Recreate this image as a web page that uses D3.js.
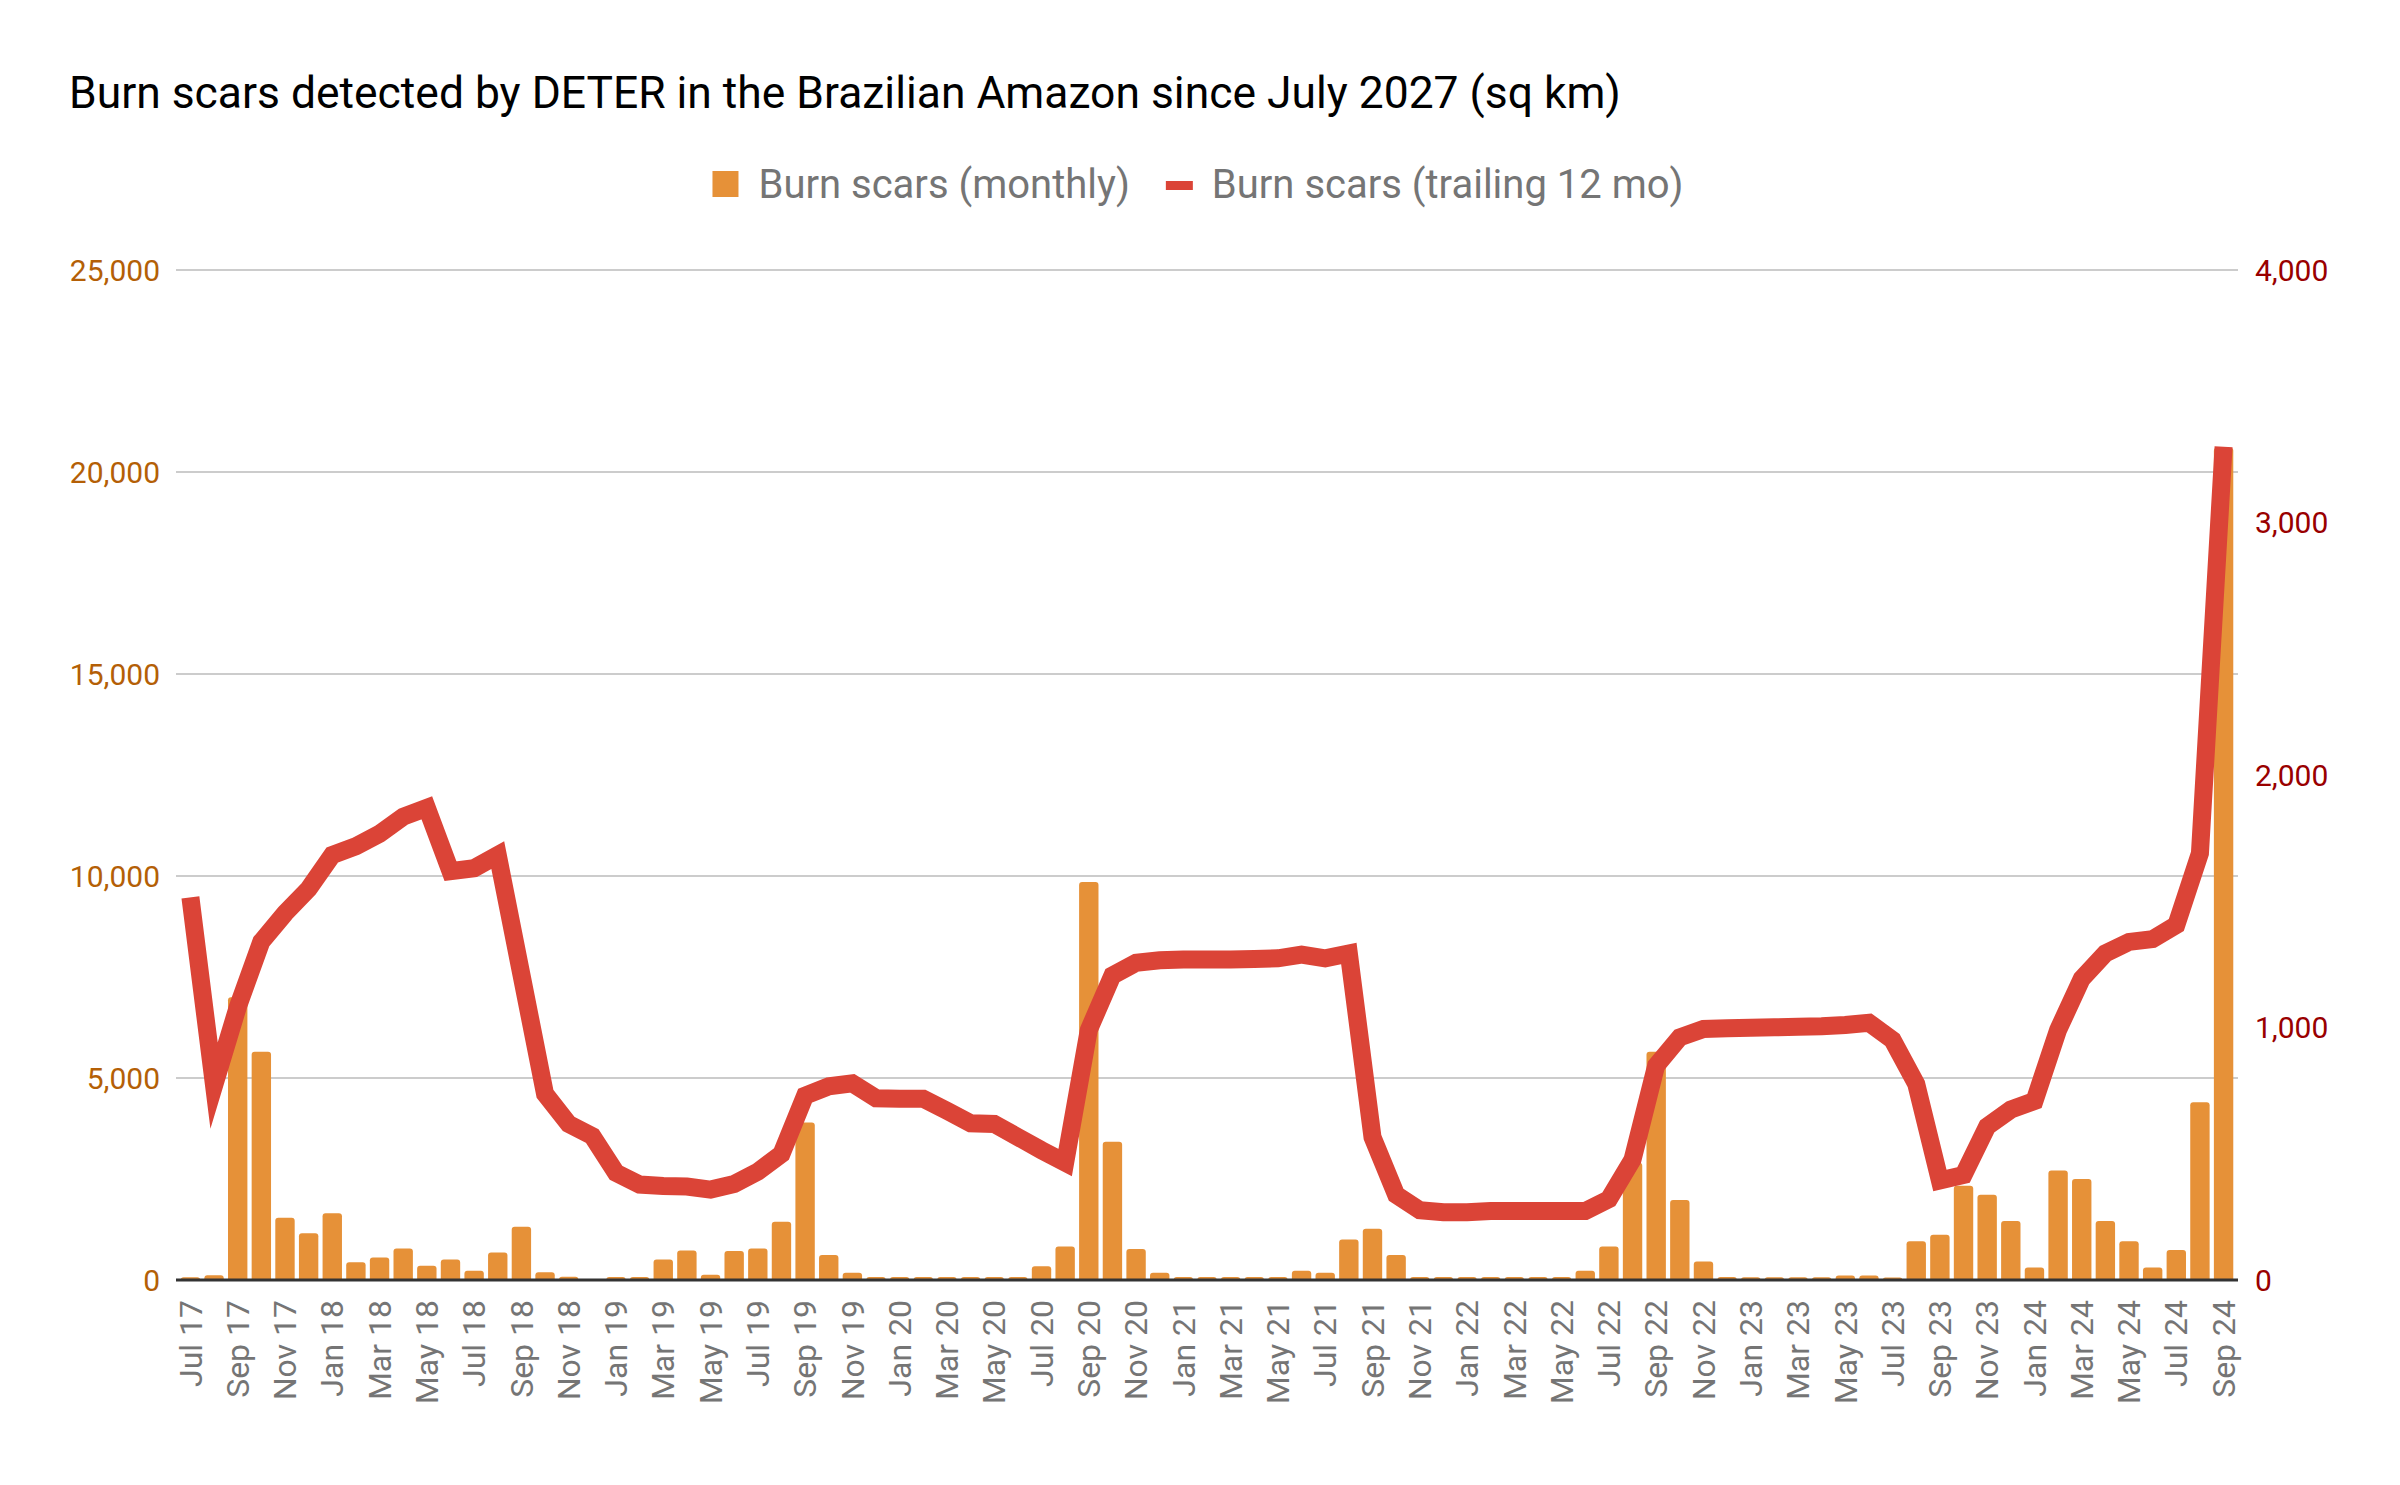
<!DOCTYPE html>
<html>
<head>
<meta charset="utf-8">
<script src="https://cdn.jsdelivr.net/npm/d3@7"></script>
<style>
  html, body { margin: 0; padding: 0; background: #ffffff; }
  svg { display: block; font-family: Roboto, "Noto Sans", Arial, sans-serif; }
</style>
</head>
<body>
<svg id="chart" width="2400" height="1485"></svg>
<script>
// ---- DATA ----
const months = [
  "Jul 17","Aug 17","Sep 17","Oct 17","Nov 17","Dec 17",
  "Jan 18","Feb 18","Mar 18","Apr 18","May 18","Jun 18","Jul 18","Aug 18","Sep 18","Oct 18","Nov 18","Dec 18",
  "Jan 19","Feb 19","Mar 19","Apr 19","May 19","Jun 19","Jul 19","Aug 19","Sep 19","Oct 19","Nov 19","Dec 19",
  "Jan 20","Feb 20","Mar 20","Apr 20","May 20","Jun 20","Jul 20","Aug 20","Sep 20","Oct 20","Nov 20","Dec 20",
  "Jan 21","Feb 21","Mar 21","Apr 21","May 21","Jun 21","Jul 21","Aug 21","Sep 21","Oct 21","Nov 21","Dec 21",
  "Jan 22","Feb 22","Mar 22","Apr 22","May 22","Jun 22","Jul 22","Aug 22","Sep 22","Oct 22","Nov 22","Dec 22",
  "Jan 23","Feb 23","Mar 23","Apr 23","May 23","Jun 23","Jul 23","Aug 23","Sep 23","Oct 23","Nov 23","Dec 23",
  "Jan 24","Feb 24","Mar 24","Apr 24","May 24","Jun 24","Jul 24","Aug 24","Sep 24"
];

const monthlyBurn = [
  70, 120, 7000, 5650, 1540, 1160,
  1650, 440, 560, 780, 350, 510, 230, 680, 1320, 190, 80, 0,
  75, 75, 510, 730, 130, 720, 780, 1440, 3900, 620, 180, 75,
  75, 75, 75, 75, 75, 75, 340, 830, 9850, 3420, 770, 180,
  75, 75, 75, 75, 75, 230, 180, 1000, 1270, 620, 75, 75,
  75, 75, 75, 75, 75, 230, 830, 2900, 5650, 1980, 460, 75,
  70, 70, 70, 70, 110, 110, 60, 960, 1120, 2330, 2110, 1460,
  310, 2710, 2500, 1460, 960, 310, 740, 4400, 20600
];

const trailing12 = [
  1515, 770, 1080, 1340, 1452, 1549,
  1683, 1718, 1767, 1835, 1870, 1619, 1631, 1683, 1210, 737, 618, 570,
  425, 378, 372, 370, 358, 380, 429, 499, 730, 767, 779, 720,
  718, 718, 670, 621, 618, 566, 514, 465, 990, 1206, 1256, 1266,
  1269, 1269, 1269, 1271, 1274, 1289, 1274, 1293, 566, 338, 276, 268,
  268, 273, 273, 273, 273, 273, 320, 477, 849, 961, 994, 997,
  999, 1001, 1003, 1005, 1010, 1019, 950, 776, 394, 416, 608, 675,
  709, 990, 1193, 1294, 1339, 1350, 1406, 1690, 3300
];

const leftTicks = [0, 5000, 10000, 15000, 20000, 25000];
const rightTicks = [0, 1000, 2000, 3000, 4000];

const titleText = "Burn scars detected by DETER in the Brazilian Amazon since July 2027 (sq km)";
const seriesNames = ["Burn scars (monthly)", "Burn scars (trailing 12 mo)"];

// ---- STYLE / LAYOUT ----
const W = 2400, H = 1485;
const plotLeft = 176, plotRight = 2238, plotTop = 270, plotBottom = 1280;
const barColor = "#e69138";
const lineColor = "#db4437";
const leftAxisColor = "#b45f06";
const rightAxisColor = "#990000";
const labelGray = "#757575";

const svg = d3.select("#chart");
svg.append("rect").attr("width", W).attr("height", H).attr("fill", "#ffffff");

const x = d3.scaleBand()
  .domain(months)
  .range([plotLeft, plotRight])
  .paddingInner(0.18)
  .paddingOuter(0.2);

const yL = d3.scaleLinear().domain([0, 25000]).range([plotBottom, plotTop]);
const yR = d3.scaleLinear().domain([0, 4000]).range([plotBottom, plotTop]);

// gridlines
svg.append("g").selectAll("line")
  .data(leftTicks.filter(d => d > 0))
  .join("line")
  .attr("x1", plotLeft).attr("x2", plotRight)
  .attr("y1", d => yL(d)).attr("y2", d => yL(d))
  .attr("stroke", "#cccccc").attr("stroke-width", 2);

// left axis labels
svg.append("g").selectAll("text")
  .data(leftTicks)
  .join("text")
  .attr("x", 160)
  .attr("y", d => yL(d))
  .attr("dy", "0.35em")
  .attr("text-anchor", "end")
  .attr("font-size", 30)
  .attr("fill", leftAxisColor)
  .text(d => d3.format(",")(d));

// right axis labels
svg.append("g").selectAll("text")
  .data(rightTicks)
  .join("text")
  .attr("x", 2255)
  .attr("y", d => yR(d))
  .attr("dy", "0.35em")
  .attr("text-anchor", "start")
  .attr("font-size", 30)
  .attr("fill", rightAxisColor)
  .text(d => d3.format(",")(d));

// bars with rounded tops
const r = 3;
function barPath(d, i) {
  const x0 = x(months[i]);
  const w = x.bandwidth();
  const yTop = yL(d);
  const y0 = yL(0);
  const h = y0 - yTop;
  if (h <= 0) return "";
  const rr = Math.min(r, h, w / 2);
  return `M${x0},${y0}L${x0},${yTop + rr}Q${x0},${yTop} ${x0 + rr},${yTop}` +
         `L${x0 + w - rr},${yTop}Q${x0 + w},${yTop} ${x0 + w},${yTop + rr}L${x0 + w},${y0}Z`;
}
svg.append("g").selectAll("path")
  .data(monthlyBurn)
  .join("path")
  .attr("d", (d, i) => barPath(d, i))
  .attr("fill", barColor);

// baseline
svg.append("line")
  .attr("x1", plotLeft).attr("x2", plotRight)
  .attr("y1", plotBottom).attr("y2", plotBottom)
  .attr("stroke", "#333333").attr("stroke-width", 3);

// line
const line = d3.line()
  .x((d, i) => x(months[i]) + x.bandwidth() / 2)
  .y(d => yR(d));
svg.append("path")
  .datum(trailing12)
  .attr("d", line)
  .attr("fill", "none")
  .attr("stroke", lineColor)
  .attr("stroke-width", 18)
  .attr("stroke-linejoin", "miter")
  .attr("stroke-miterlimit", 10)
  .attr("stroke-linecap", "butt");

// x labels (every other month)
svg.append("g").selectAll("text")
  .data(months.filter((m, i) => i % 2 === 0))
  .join("text")
  .attr("transform", d => `translate(${x(d) + x.bandwidth() / 2},1300) rotate(-90)`)
  .attr("dy", "0.35em")
  .attr("text-anchor", "end")
  .attr("font-size", 32)
  .attr("fill", labelGray)
  .text(d => d);

// title
svg.append("text")
  .attr("x", 69).attr("y", 108)
  .attr("font-size", 44.4)
  .attr("fill", "#000000")
  .text(titleText);

// legend
const lg = svg.append("g");
const ly = 198;
const t1 = lg.append("text").attr("font-size", 40).attr("fill", labelGray).attr("y", ly).text(seriesNames[0]);
const t2 = lg.append("text").attr("font-size", 40).attr("fill", labelGray).attr("y", ly).text(seriesNames[1]);
const w1 = t1.node().getComputedTextLength();
const w2 = t2.node().getComputedTextLength();
const total = 26 + 20 + w1 + 36 + 27 + 19 + w2;
let lx = 1198 - total / 2;
lg.insert("rect", "text").attr("x", lx).attr("y", 171).attr("width", 26).attr("height", 26).attr("fill", barColor);
t1.attr("x", lx + 46);
const lx2 = lx + 46 + w1 + 36;
lg.append("rect").attr("x", lx2).attr("y", 181).attr("width", 27).attr("height", 9).attr("fill", lineColor);
t2.attr("x", lx2 + 46);
</script>
</body>
</html>
